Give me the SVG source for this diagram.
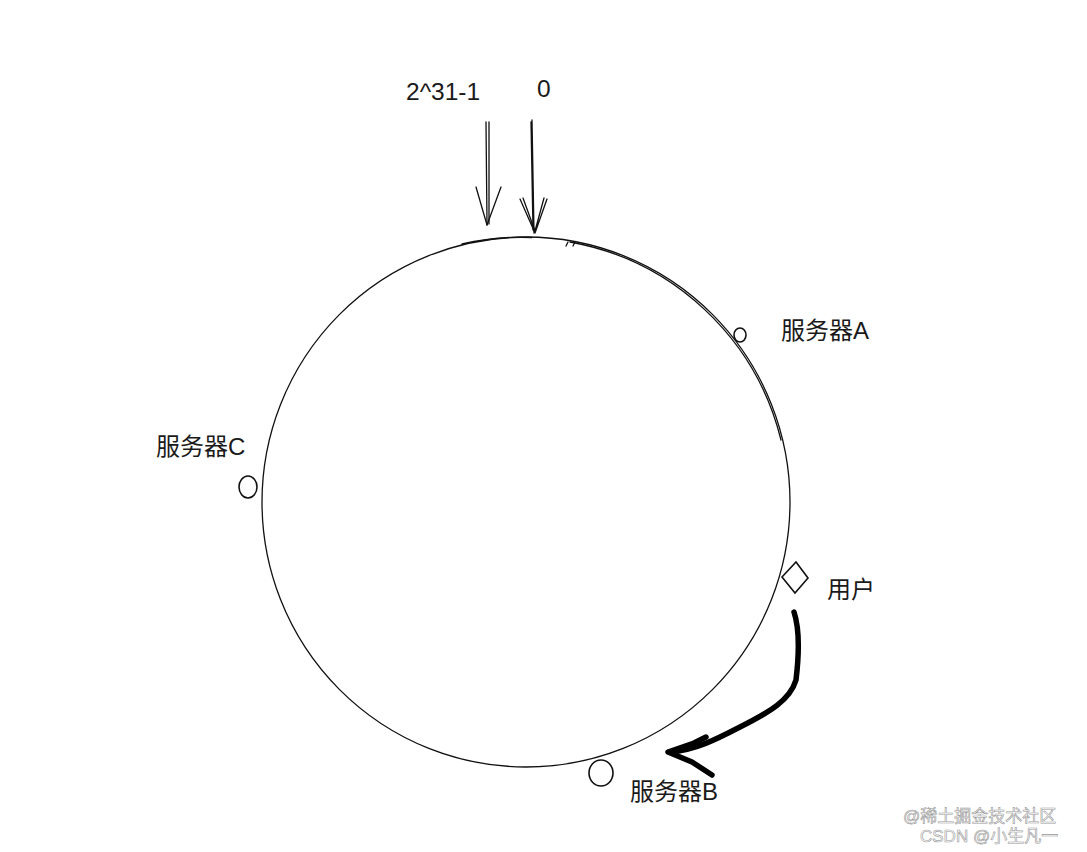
<svg xmlns="http://www.w3.org/2000/svg" width="1087" height="852" viewBox="0 0 1087 852">
<style>
  .lbl { font-family: "Liberation Sans", "Noto Sans CJK SC", sans-serif; font-size: 24px; fill: #1a1a1a; }
  .num { font-family: "Liberation Sans", sans-serif; font-size: 24.5px; fill: #1a1a1a; }
  .thin { fill: none; stroke: #111; stroke-width: 1.3; stroke-linecap: round; stroke-linejoin: round; }
  .node { fill: #fff; stroke: #111; stroke-width: 1.6; }
  .wm { font-family: "Liberation Sans", "Noto Sans CJK SC", sans-serif; font-size: 17px; fill: #fff; stroke: #999; stroke-width: 0.6; }
</style>
<rect width="1087" height="852" fill="#fff"/>
<g id="ring">
  <ellipse cx="526" cy="502" rx="264" ry="265" class="thin"/>
  <path d="M 570 242 A 265 266 0 0 1 781 440" class="thin" stroke-width="0.9"/>
  <path d="M 462 244 A 264 265 0 0 1 532 237.5" class="thin" stroke-width="1.2"/>
  <path d="M 566 246 l 2 -4 M 573 246 l 2 -4" class="thin" stroke-width="1"/>
</g>
<g id="marker-max">
  <text x="406" y="100" class="num">2^31-1</text>
  <path d="M 486 122 L 487 225 M 489 122 L 489 224" class="thin"/>
  <path d="M 476 187 L 487 225 L 501 187" class="thin"/>
</g>
<g id="marker-zero">
  <text x="537" y="97" class="num">0</text>
  <path d="M 532 120 L 534 233 M 531 122 L 533 230" class="thin"/>
  <path d="M 520 199 L 535 233 L 547 199 M 523 198 L 535 231 M 544 198 L 535 231" class="thin"/>
</g>
<g id="server-a">
  <ellipse cx="740" cy="335" rx="6" ry="7" class="node"/>
  <text x="781" y="339" class="lbl">服务器A</text>
</g>
<g id="server-c">
  <ellipse cx="248" cy="487" rx="9" ry="11" class="node"/>
  <text x="156" y="455" class="lbl">服务器C</text>
</g>
<g id="server-b">
  <ellipse cx="601" cy="773" rx="12" ry="13" class="node"/>
  <text x="630" y="800" class="lbl">服务器B</text>
</g>
<g id="user">
  <polygon points="796,562 808,578 795,593 782,577" class="node"/>
  <text x="827" y="598" class="lbl">用户</text>
</g>
<g id="connectors">
  <path d="M 794 612 C 800 630 799 655 796 680 C 790 700 770 712 740 727 C 715 740 695 750 670 752" fill="none" stroke="#000" stroke-width="5.5" stroke-linecap="round" stroke-linejoin="round"/>
  <path d="M 706 737 L 694 743 L 668 752 L 692 762 L 712 775" fill="none" stroke="#000" stroke-width="5.5" stroke-linecap="round" stroke-linejoin="round"/>
</g>
<g id="watermark">
  <text x="903" y="822" class="wm">@稀土掘金技术社区</text>
  <text x="920" y="842" class="wm">CSDN @小生凡一</text>
</g>
</svg>
